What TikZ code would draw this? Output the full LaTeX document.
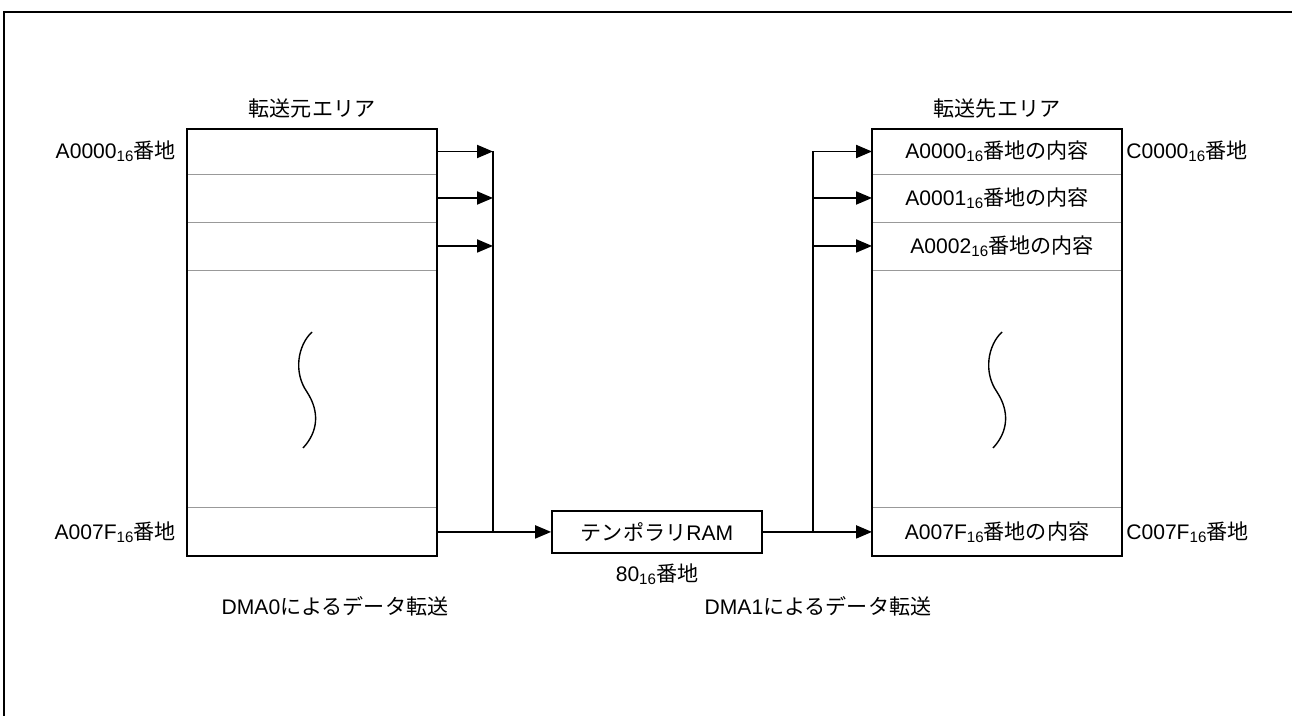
\documentclass[tikz,border=0pt]{standalone}
\usepackage{fontspec}
\setmainfont{Liberation Sans}
\newfontfamily\cjk{Noto Sans CJK JP}
\usetikzlibrary{positioning, arrows.meta}
\newcommand{\jp}[1]{{\cjk #1}}
\newcommand{\hexnum}[1]{#1\raisebox{-0.25ex}{\fontsize{8.6}{10}\selectfont 16}}
\tikzstyle{txt} = [inner sep=0pt, font=\fontsize{12}{14}\selectfont]
\tikzstyle{cell} = [rectangle, draw=gray!80, line width=0.5pt, minimum width=5cm, inner sep=0pt, outer sep=0pt, txt]
\tikzstyle{membox} = [rectangle, draw=black, line width=1pt, minimum width=4.2cm, minimum height=0.84cm, txt]
\tikzstyle{arrow} = [line width=1.1pt, -{Triangle[length=0.32cm,width=0.26cm]}]
\tikzstyle{bus} = [line width=0.6pt]

\begin{document}
\begin{tikzpicture}[x=0.02cm, y=-0.02cm]
\useasboundingbox (0,0) rectangle (1292,716);
\draw[line width=1pt] (4,716) -- (4,12) -- (1292,12);

% source area
\node (src0) [cell, minimum height=0.9cm] at (312,151.5) {};
\node (src1) [cell, minimum height=0.96cm, below=0pt of src0] {};
\node (src2) [cell, minimum height=0.96cm, below=0pt of src1] {};
\node (srcM) [cell, minimum height=4.76cm, below=0pt of src2] {};
\node (srcN) [cell, minimum height=0.96cm, below=0pt of srcM] {};
\draw[line width=1pt] (src0.north west) rectangle (srcN.south east);
\node (srcTitle) [txt, above=0.2cm of src0] {\jp{転送元エリア}};
\node (srcA0) [txt, left=0.22cm of src0] {\hexnum{A0000}\jp{番地}};
\node (srcAN) [txt, left=0.22cm of srcN] {\hexnum{A007F}\jp{番地}};
\draw[line width=0.8pt] (312,332) .. controls (298,345) and (293,372) .. (307,392)
  .. controls (320,412) and (318,432) .. (303,448);

% destination area
\node (dst0) [cell, minimum height=0.9cm] at (997,151.5) {\hexnum{A0000}\jp{番地の内容}};
\node (dst1) [cell, minimum height=0.96cm, below=0pt of dst0] {\hexnum{A0001}\jp{番地の内容}};
\node (dst2) [cell, minimum height=0.96cm, below=0pt of dst1] {\hspace{0.2cm}\hexnum{A0002}\jp{番地の内容}};
\node (dstM) [cell, minimum height=4.76cm, below=0pt of dst2] {};
\node (dstN) [cell, minimum height=0.96cm, below=0pt of dstM] {\hexnum{A007F}\jp{番地の内容}};
\draw[line width=1pt] (dst0.north west) rectangle (dstN.south east);
\node (dstTitle) [txt, above=0.2cm of dst0] {\jp{転送先エリア}};
\node (dstC0) [txt, right=0.08cm of dst0] {\hexnum{C0000}\jp{番地}};
\node (dstCN) [txt, right=0.08cm of dstN] {\hexnum{C007F}\jp{番地}};
\draw[line width=0.8pt] (1002,332) .. controls (988,345) and (983,372) .. (997,392)
  .. controls (1010,412) and (1008,432) .. (993,448);

% temporary RAM
\node (tmp) [membox] at (657,532) {\jp{テンポラリ}RAM};
\node (tmpAddr) [txt, below=0.2cm of tmp] {\hexnum{80}\jp{番地}};
\node (dma0) [txt] at (335,606) {DMA0\jp{によるデータ転送}};
\node (dma1) [txt] at (818,606) {DMA1\jp{によるデータ転送}};

% DMA0 transfer
\coordinate (busL) at (493,152);
\foreach \r in {src0, src1, src2}
  \draw[arrow] (\r.east) -- (\r.east -| busL);
\draw[bus] (src0.east -| busL) -- (srcN.east -| busL);
\draw[arrow] (srcN.east) -- (srcN.east -| tmp.west);

% DMA1 transfer
\coordinate (busR) at (813,152);
\foreach \r in {dst0, dst1, dst2}
  \draw[arrow] (\r.west -| busR) -- (\r.west);
\draw[bus] (dst0.west -| busR) -- (dstN.west -| busR);
\draw[arrow] (tmp.east |- dstN.west) -- (dstN.west);
\end{tikzpicture}
\end{document}
